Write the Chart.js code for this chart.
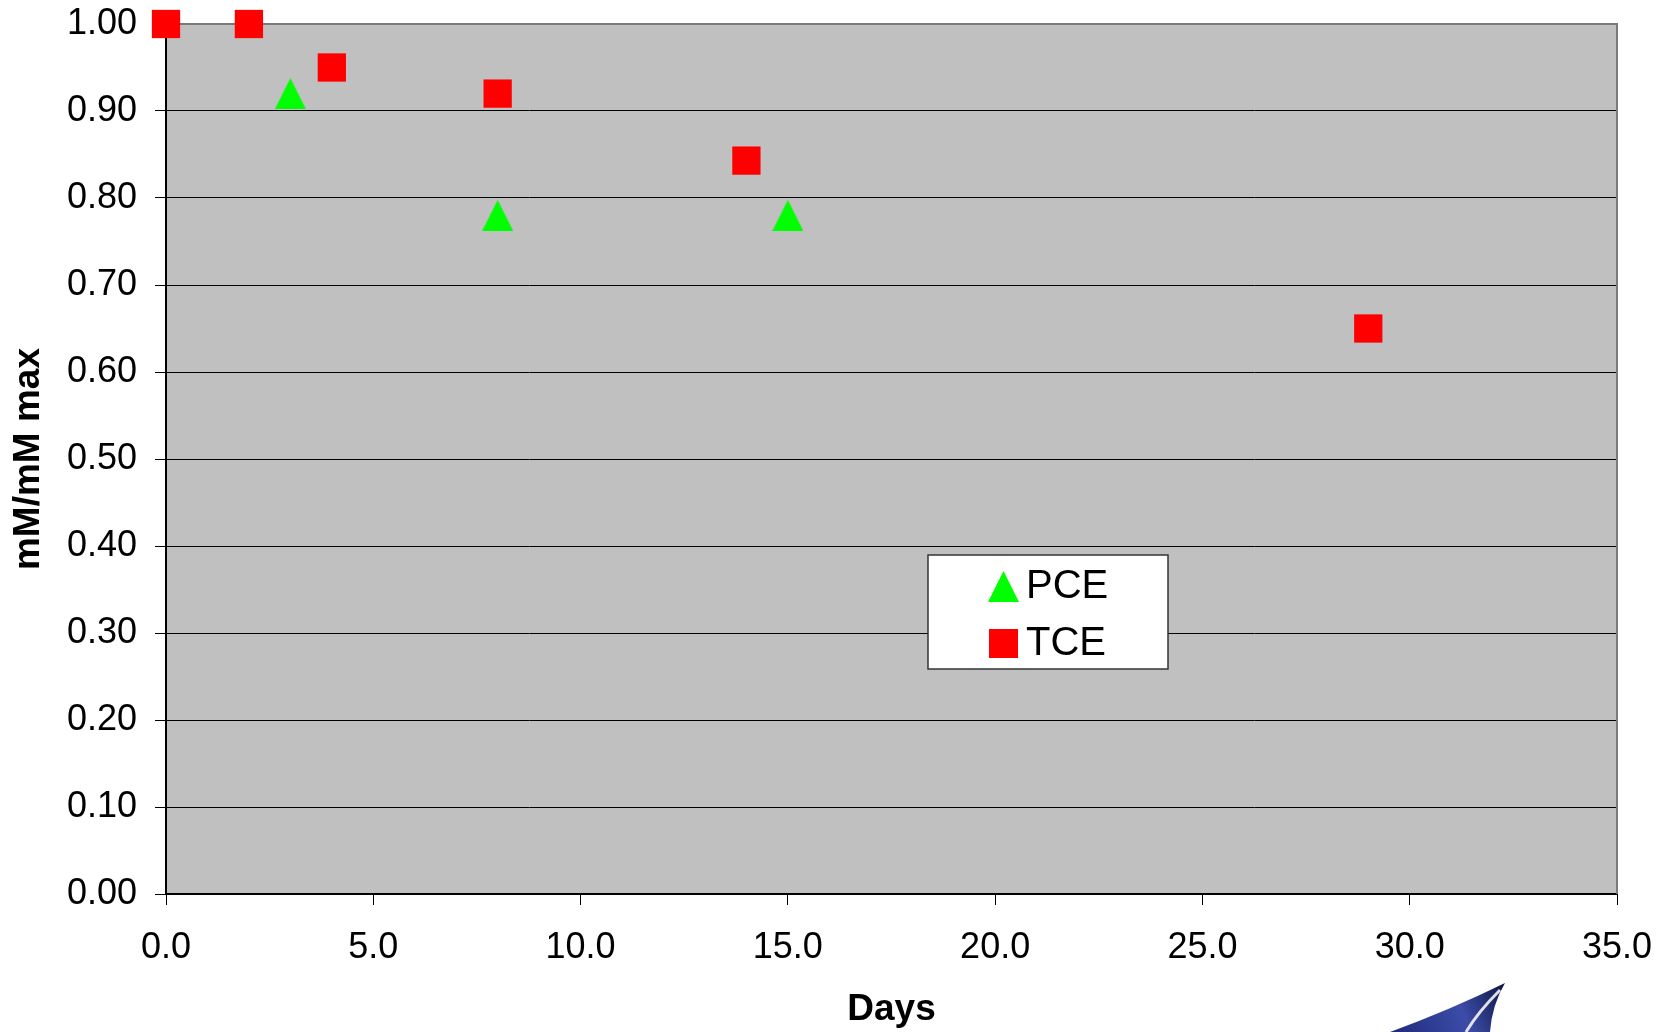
<!DOCTYPE html>
<html>
<head>
<meta charset="utf-8">
<script src="https://cdn.jsdelivr.net/npm/chart.js@4.4.1/dist/chart.umd.min.js"></script>
<style>
  html, body { margin: 0; padding: 0; background: #fff; }
  #wrap { width: 1670px; height: 1032px; position: relative; }
</style>
</head>
<body>
<div id="wrap"><canvas id="chart"></canvas></div>
<script>
// data
const seriesNames = ["PCE", "TCE"];
const pceDays = [3, 8, 15];
const pceValues = [0.92, 0.78, 0.78];
const tceDays = [0, 2, 4, 8, 14, 29];
const tceValues = [1.00, 1.00, 0.95, 0.92, 0.843, 0.65];
const xTicks = [0, 5, 10, 15, 20, 25, 30, 35];
const yTicks = [0, 0.1, 0.2, 0.3, 0.4, 0.5, 0.6, 0.7, 0.8, 0.9, 1.0];

const FONT = "'Liberation Sans', Arial, sans-serif";

// excel-like triangle marker: centred on its bounding box
function triangleMarker(w, h, color) {
  const c = document.createElement("canvas");
  c.width = w;
  c.height = h;
  const g = c.getContext("2d");
  g.fillStyle = color;
  g.beginPath();
  g.moveTo(w / 2, 0);
  g.lineTo(w, h);
  g.lineTo(0, h);
  g.closePath();
  g.fill();
  return c;
}
const triMark = triangleMarker(31, 31, "#00ff00");

// grey plot area + grey top/right frame
const plotBg = {
  id: "plotBg",
  beforeDraw(chart) {
    const { ctx, chartArea: a } = chart;
    ctx.save();
    ctx.fillStyle = "#c0c0c0";
    ctx.fillRect(a.left, a.top, a.right - a.left, a.bottom - a.top);
    ctx.restore();
  },
  beforeDatasetsDraw(chart) {
    const { ctx, chartArea: a } = chart;
    ctx.save();
    ctx.strokeStyle = "#7a7a7a";
    ctx.lineWidth = 2;
    ctx.beginPath();
    ctx.moveTo(a.left, a.top);
    ctx.lineTo(a.right, a.top);
    ctx.lineTo(a.right, a.bottom);
    ctx.stroke();
    ctx.restore();
  }
};

// boxed legend floating inside the plot
const boxLegend = {
  id: "boxLegend",
  afterDraw(chart) {
    const { ctx } = chart;
    const x = 928, y = 555, w = 240, h = 114;
    ctx.save();
    ctx.fillStyle = "#fff";
    ctx.fillRect(x, y, w, h);
    ctx.strokeStyle = "#333";
    ctx.lineWidth = 1.5;
    ctx.strokeRect(x, y, w, h);
    ctx.font = "40px " + FONT;
    ctx.textBaseline = "middle";
    chart.data.datasets.forEach((ds, i) => {
      const cy = y + 31 + i * 57;
      if (ds.pointStyle instanceof HTMLCanvasElement) {
        ctx.drawImage(ds.pointStyle, 988, cy - 15);
      } else {
        ctx.fillStyle = ds.backgroundColor;
        ctx.fillRect(989, cy - 14, 29, 29);
      }
      ctx.fillStyle = "#000";
      ctx.fillText(ds.label, 1026, cy + 1);
    });
    ctx.restore();
  }
};

// little blue pen-tip logo at bottom right
const logo = {
  id: "logo",
  afterDraw(chart) {
    const { ctx } = chart;
    ctx.save();
    const g = ctx.createLinearGradient(1390, 1032, 1505, 983);
    g.addColorStop(0, "#1e2a7a");
    g.addColorStop(0.6, "#3c4ca8");
    g.addColorStop(1, "#0d1440");
    ctx.fillStyle = g;
    ctx.beginPath();
    ctx.moveTo(1505, 983);
    ctx.quadraticCurveTo(1450, 1010, 1390, 1032);
    ctx.lineTo(1490, 1032);
    ctx.quadraticCurveTo(1492, 1005, 1505, 983);
    ctx.fill();
    ctx.strokeStyle = "rgba(255,255,255,0.85)";
    ctx.lineWidth = 3;
    ctx.beginPath();
    ctx.moveTo(1500, 990);
    ctx.quadraticCurveTo(1478, 1012, 1466, 1032);
    ctx.stroke();
    ctx.restore();
  }
};

new Chart(document.getElementById("chart"), {
  type: "scatter",
  data: {
    datasets: [
      {
        label: seriesNames[0],
        data: pceDays.map((d, i) => ({ x: d, y: pceValues[i] })),
        pointStyle: triMark,
        pointRadius: 16,
        backgroundColor: "#00ff00",
        borderWidth: 0,
        clip: false
      },
      {
        label: seriesNames[1],
        data: tceDays.map((d, i) => ({ x: d, y: tceValues[i] })),
        pointStyle: "rect",
        pointRadius: 20,
        backgroundColor: "#ff0000",
        borderWidth: 0,
        clip: false
      }
    ]
  },
  options: {
    responsive: true,
    maintainAspectRatio: false,
    animation: false,
    layout: { padding: { left: 0, right: 53, top: 24, bottom: 0 } },
    plugins: {
      legend: { display: false },
      tooltip: { enabled: false }
    },
    scales: {
      x: {
        type: "linear",
        min: 0,
        max: 35,
        afterBuildTicks: (s) => { s.ticks = xTicks.map(v => ({ value: v })); },
        afterFit: (s) => {
          s.height = 138;
          s.paddingLeft = 0;
          s.paddingRight = 0;
        },
        ticks: {
          font: { family: FONT, size: 36 },
          color: "#000",
          padding: 21,
          maxRotation: 0,
          callback: (v) => v.toFixed(1)
        },
        grid: {
          drawOnChartArea: false,
          color: "#000",
          tickLength: 11,
          tickColor: "#000"
        },
        border: { color: "#000", width: 2 },
        title: {
          display: true,
          text: "Days",
          color: "#000",
          font: { family: FONT, size: 37, weight: "bold", lineHeight: 1.2 },
          padding: { top: 0, bottom: 0 }
        }
      },
      y: {
        min: 0,
        max: 1,
        afterBuildTicks: (s) => { s.ticks = yTicks.map(v => ({ value: v })); },
        afterFit: (s) => {
          s.width = 166;
          s.paddingTop = 0;
          s.paddingBottom = 0;
        },
        ticks: {
          font: { family: FONT, size: 36 },
          color: "#000",
          padding: 18,
          callback: (v) => v.toFixed(2)
        },
        grid: {
          color: "#000",
          lineWidth: 1,
          tickLength: 11,
          tickColor: "#000"
        },
        border: { color: "#000", width: 2 },
        title: {
          display: true,
          text: "mM/mM max",
          color: "#000",
          font: { family: FONT, size: 37, weight: "bold", lineHeight: 1.2 },
          padding: { top: 7, bottom: 0 }
        }
      }
    }
  },
  plugins: [plotBg, boxLegend, logo]
});
</script>
</body>
</html>
